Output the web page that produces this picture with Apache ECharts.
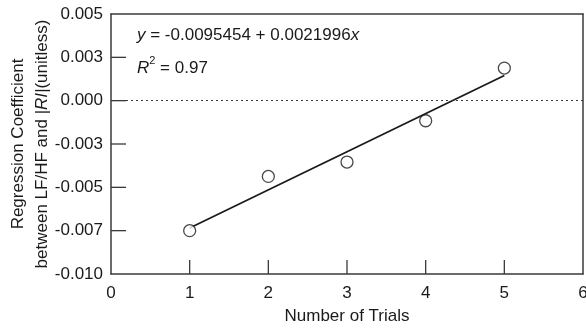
<!DOCTYPE html>
<html>
<head>
<meta charset="utf-8">
<script src="https://cdn.jsdelivr.net/npm/echarts@6/dist/echarts.min.js"></script>
<style>
  html, body { margin: 0; padding: 0; background: #fff; }
  #chart { width: 586px; height: 329px; }
</style>
</head>
<body>
<div id="chart"></div>
<script>
// Trial number and the regression coefficient measured at each trial
const trials = [1, 2, 3, 4, 5];
const coefficients = [-0.0075, -0.00437, -0.00354, -0.00116, 0.00188];

// Least-squares fit: y = intercept + slope * x
const fitIntercept = -0.0095454;
const fitSlope = 0.0021996;
const fitR2 = 0.97;
const fitRange = [1, 5];

// Tick labels on the value axis, bottom to top
const yTickLabels = ['-0.010', '-0.007', '-0.005', '-0.003', '0.000', '0.003', '0.005'];
const yMin = -0.010, yMax = 0.005, yStep = 0.0025;
const xMin = 0, xMax = 6, xStep = 1;

// Inner tick marks (the ones at the ends fall on the frame)
const xTickValues = [1, 2, 3, 4, 5];
const yTickValues = [-0.0075, -0.005, -0.0025, 0, 0.0025];

const FONT = '"Liberation Sans", Arial, Helvetica, sans-serif';
const INK = '#1a1a1a';
const AXIS = '#3a3a3a';
const X_TICK_LEN = 14, Y_TICK_LEN = 15, TICK_W = 1.3;

const fitLine = fitRange.map(x => [x, fitIntercept + fitSlope * x]);

// Plain frame axes for the top and right sides of the box
function frameAxis(pos, min, max) {
  return {
    type: 'value', position: pos, min: min, max: max,
    axisLine: { show: true, onZero: false, lineStyle: { color: AXIS, width: 1.5 } },
    axisTick: { show: false }, axisLabel: { show: false }, splitLine: { show: false }
  };
}

const chart = echarts.init(document.getElementById('chart'), null, { renderer: 'canvas' });

chart.setOption({
  animation: false,
  backgroundColor: '#fff',
  textStyle: { fontFamily: FONT, color: INK },
  grid: {
    left: 111, right: 3, top: 14, bottom: 55,
    // let the right-most tick label run past the canvas edge
    outerBounds: { left: -200, right: -200, top: -200, bottom: -200 }
  },
  xAxis: [{
    type: 'value',
    position: 'bottom',
    min: xMin, max: xMax, interval: xStep,
    name: 'Number of Trials',
    nameLocation: 'middle',
    nameGap: 34,
    nameTextStyle: { fontSize: 17, color: INK, fontFamily: FONT },
    axisLine: { show: true, onZero: false, lineStyle: { color: AXIS, width: 1.5 } },
    axisTick: { show: false },
    axisLabel: { fontSize: 17, color: INK, margin: 11, fontFamily: FONT },
    splitLine: { show: false }
  }, frameAxis('top', xMin, xMax)],
  yAxis: [{
    type: 'value',
    position: 'left',
    min: yMin, max: yMax, interval: yStep,
    name: 'Regression Coefficient\nbetween LF/HF and {i||RI|}(unitless)',
    nameLocation: 'middle',
    nameRotate: 90,
    nameGap: 57,
    nameMoveOverlap: false,
    nameTextStyle: {
      fontSize: 17, color: INK, fontFamily: FONT, lineHeight: 24, align: 'center',
      rich: {
        i: { fontSize: 17, fontStyle: 'italic', color: INK, fontFamily: FONT, lineHeight: 24 }
      }
    },
    axisLine: { show: true, onZero: false, lineStyle: { color: AXIS, width: 1.5 } },
    axisTick: { show: false },
    axisLabel: {
      fontSize: 17, color: INK, margin: 8, fontFamily: FONT,
      formatter: function (v) {
        const idx = Math.round((v - yMin) / yStep);
        return yTickLabels[idx] !== undefined ? yTickLabels[idx] : '';
      }
    },
    splitLine: { show: false }
  }, frameAxis('right', yMin, yMax)],
  graphic: [
    {
      id: 'eqn',
      type: 'text',
      left: 137, top: 27,
      silent: true,
      style: {
        text: '{it|y}{n| = ' + fitIntercept.toFixed(7) + ' + ' + fitSlope.toFixed(7) + '}{it|x}',
        rich: {
          it: { fontSize: 17, fontStyle: 'italic', fontFamily: FONT, fill: INK },
          n: { fontSize: 17, fontFamily: FONT, fill: INK }
        }
      }
    },
    {
      id: 'r2',
      type: 'text',
      left: 137, top: 55,
      silent: true,
      style: {
        text: '{it|R}{sup|2}{n| = ' + fitR2.toFixed(2) + '}',
        rich: {
          it: { fontSize: 17, fontStyle: 'italic', fontFamily: FONT, fill: INK, lineHeight: 22, verticalAlign: 'bottom' },
          sup: { fontSize: 11, fontFamily: FONT, fill: INK, lineHeight: 11, verticalAlign: 'top' },
          n: { fontSize: 17, fontFamily: FONT, fill: INK, lineHeight: 22, verticalAlign: 'bottom' }
        }
      }
    }
  ],
  series: [
    {
      name: 'Fit',
      type: 'line',
      xAxisIndex: 0, yAxisIndex: 0,
      data: fitLine,
      symbol: 'none',
      lineStyle: { color: INK, width: 1.8 },
      z: 2,
      markLine: {
        silent: true,
        symbol: 'none',
        label: { show: false },
        lineStyle: { color: AXIS, width: 1.2, type: [2, 3] },
        data: [{ yAxis: 0 }]
      }
    },
    {
      name: 'Coefficient',
      type: 'scatter',
      xAxisIndex: 0, yAxisIndex: 0,
      data: trials.map((t, i) => [t, coefficients[i]]),
      symbol: 'circle',
      symbolSize: 12,
      itemStyle: { color: '#fff', borderColor: INK, borderWidth: 1.3 },
      z: 3
    }
  ]
});

// Inward tick marks as thin filled bars, placed through the axes' own scales
const tickGraphics = [];
const finder = { xAxisIndex: 0, yAxisIndex: 0 };
xTickValues.forEach((v, i) => {
  const p = chart.convertToPixel(finder, [v, yMin]);
  tickGraphics.push({
    id: 'xt' + i, type: 'rect', silent: true, z: 50, zlevel: 1,
    shape: { x: p[0] - TICK_W / 2, y: p[1] - X_TICK_LEN, width: TICK_W, height: X_TICK_LEN },
    style: { fill: AXIS }
  });
});
yTickValues.forEach((v, i) => {
  const p = chart.convertToPixel(finder, [xMin, v]);
  tickGraphics.push({
    id: 'yt' + i, type: 'rect', silent: true, z: 50, zlevel: 1,
    shape: { x: p[0], y: p[1] - TICK_W / 2, width: Y_TICK_LEN, height: TICK_W },
    style: { fill: AXIS }
  });
});
chart.setOption({ graphic: tickGraphics });
</script>
</body>
</html>
